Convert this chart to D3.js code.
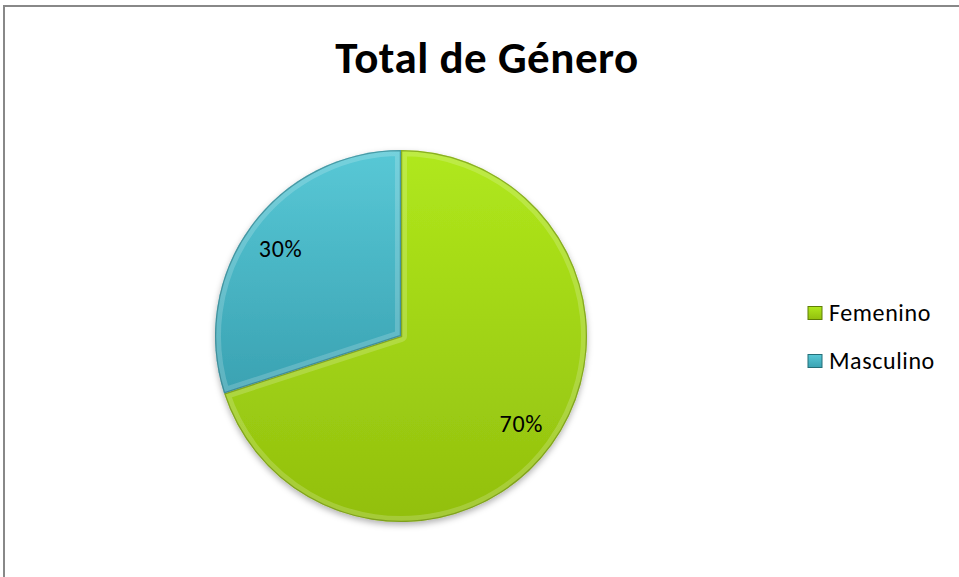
<!DOCTYPE html>
<html>
<head>
<meta charset="utf-8">
<script src="https://cdn.jsdelivr.net/npm/d3@7"></script>
<style>
  body { margin: 0; background: #fff; }
</style>
</head>
<body>
<svg class="chart" width="959" height="577"></svg>
<script>
// Pie chart: Total de Género

var categories = ["Femenino", "Masculino"];
var values = [70, 30];
var labels = ["70%", "30%"];

var svg = d3.select(".chart");
var font = "Carlito, Lato, 'Open Sans', sans-serif";

// frame
svg.append("rect")
    .attr("x", 4)
    .attr("y", 6)
    .attr("width", 970)
    .attr("height", 600)
    .attr("fill", "#fff")
    .attr("stroke", "#888")
    .attr("stroke-width", 2);

svg.append("text")
    .attr("x", 487)
    .attr("y", 73)
    .attr("text-anchor", "middle")
    .attr("font-family", font)
    .attr("font-weight", "bold")
    .attr("font-size", "45px")
    .attr("letter-spacing", "0.5px")
    .attr("fill", "#000")
    .text("Total de Género");

var defs = svg.append("defs");
var colors = [
    { top: "#b0e81c", bottom: "#92bf0e", edge: "#5f7e06" },
    { top: "#58c8d6", bottom: "#3aa2b2", edge: "#246e78" }
];

colors.forEach(function (c, i) {
    var g = defs.append("linearGradient")
        .attr("id", "grad" + i)
        .attr("x1", 0).attr("y1", 0)
        .attr("x2", 0).attr("y2", 1);
    g.append("stop").attr("offset", "0%").attr("stop-color", c.top);
    g.append("stop").attr("offset", "100%").attr("stop-color", c.bottom);
});

var shadow = defs.append("filter")
    .attr("id", "shadow")
    .attr("x", "-20%").attr("y", "-20%")
    .attr("width", "140%").attr("height", "140%");
shadow.append("feDropShadow")
    .attr("dx", 0).attr("dy", 3)
    .attr("stdDeviation", 3)
    .attr("flood-color", "#000")
    .attr("flood-opacity", 0.3);

var cx = 401, cy = 336, radius = 186;

var pie = d3.pie().sort(null).value(function (d) { return d; });
var arcs = pie(values);

var arc = d3.arc().innerRadius(0).outerRadius(radius);
var labelArc = d3.arc().innerRadius(radius * 0.8).outerRadius(radius * 0.8);

var g = svg.append("g")
    .attr("transform", "translate(" + cx + "," + cy + ")");

g.append("g")
    .attr("filter", "url(#shadow)")
    .selectAll("path")
    .data(arcs)
    .enter().append("path")
    .attr("d", arc)
    .attr("fill", function (d, i) { return "url(#grad" + i + ")"; });

// bevel: clip each slice and stroke its edge
arcs.forEach(function (d, i) {
    defs.append("clipPath")
        .attr("id", "clip" + i)
        .append("path")
        .attr("d", arc(d));
    var s = g.append("g").attr("clip-path", "url(#clip" + i + ")");
    s.append("path")
        .attr("d", arc(d))
        .attr("fill", "none")
        .attr("stroke", "#fff")
        .attr("stroke-opacity", 0.18)
        .attr("stroke-width", 12)
        .attr("stroke-linejoin", "round");
    s.append("path")
        .attr("d", arc(d))
        .attr("fill", "none")
        .attr("stroke", colors[i].edge)
        .attr("stroke-opacity", 0.55)
        .attr("stroke-width", 2.5);
});

g.selectAll(".lbl")
    .data(arcs)
    .enter().append("text")
    .attr("class", "lbl")
    .attr("transform", function (d) { return "translate(" + labelArc.centroid(d) + ")"; })
    .attr("text-anchor", "middle")
    .attr("dy", "0.35em")
    .attr("font-family", font)
    .attr("font-size", "24px")
    .attr("letter-spacing", "0.8px")
    .attr("fill", "#000")
    .text(function (d, i) { return labels[i]; });

// legend
var legend = svg.append("g")
    .attr("transform", "translate(808, 313)");

var items = legend.selectAll(".item")
    .data(categories)
    .enter().append("g")
    .attr("class", "item")
    .attr("transform", function (d, i) { return "translate(0," + i * 48 + ")"; });

items.append("rect")
    .attr("x", 0)
    .attr("y", -6.5)
    .attr("width", 14)
    .attr("height", 13)
    .attr("fill", function (d, i) { return "url(#grad" + i + ")"; })
    .attr("stroke", function (d, i) { return colors[i].edge; })
    .attr("stroke-width", 1);

items.append("text")
    .attr("x", 21)
    .attr("y", 0)
    .attr("dy", "0.35em")
    .attr("font-family", font)
    .attr("font-size", "24px")
    .attr("letter-spacing", "0.6px")
    .attr("fill", "#000")
    .text(function (d) { return d; });
</script>
</body>
</html>
